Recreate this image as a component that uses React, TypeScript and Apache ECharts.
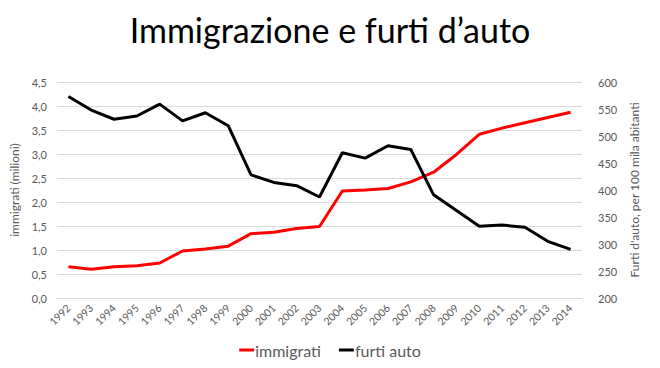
import React, { useEffect, useRef } from "react";
import * as echarts from "echarts";

const years = ["1992","1993","1994","1995","1996","1997","1998","1999","2000","2001","2002","2003","2004","2005","2006","2007","2008","2009","2010","2011","2012","2013","2014"];
const immigrati = [0.65,0.60,0.65,0.67,0.73,0.98,1.02,1.08,1.34,1.37,1.45,1.49,2.23,2.25,2.28,2.42,2.62,2.99,3.41,3.54,3.65,3.76,3.87];
const furtiAuto = [573,548,531,537,559,528,543,519,428,414,408,387,469,459,482,475,391,362,333,335,331,305,290];

const FONT = "Lato, 'Open Sans', sans-serif";
const GRAY = "#595959";

export default function App() {
  const ref = useRef<HTMLDivElement>(null);
  useEffect(() => {
    document.body.style.margin = "0";
    const chart = echarts.init(ref.current!, null, { renderer: "svg" });
    chart.setOption({
      animation: false,
      backgroundColor: "#ffffff",
      textStyle: { fontFamily: FONT },
      title: {
        text: "Immigrazione e furti d\u2019auto",
        left: "center",
        top: 7,
        textStyle: { fontFamily: FONT, fontSize: 34, fontWeight: "normal", color: "#000000" },
      },
      legend: {
        bottom: 5,
        left: "center",
        icon: "rect",
        itemWidth: 15,
        itemHeight: 3,
        itemGap: 18,
        textStyle: { fontFamily: FONT, fontSize: 16, color: GRAY, padding: [0, 0, 0, -4] },
        data: ["immigrati", "furti auto"],
      },
      grid: { left: 57, right: 78, top: 82, bottom: 70, containLabel: false },
      xAxis: {
        type: "category",
        data: years,
        boundaryGap: true,
        axisLine: { show: true, lineStyle: { color: "#d9d9d9" } },
        axisTick: { show: false },
        axisLabel: { rotate: 45, fontSize: 10.5, color: GRAY, fontFamily: FONT, margin: 8, interval: 0 },
      },
      yAxis: [
        {
          type: "value",
          min: 0,
          max: 4.5,
          interval: 0.5,
          name: "immigrati (milioni)",
          nameLocation: "middle",
          nameGap: 33,
          nameTextStyle: { fontSize: 12, color: GRAY, fontFamily: FONT },
          axisLine: { show: false },
          axisTick: { show: false },
          axisLabel: {
            fontSize: 11,
            color: GRAY,
            fontFamily: FONT,
            margin: 10,
            formatter: (v: number) => v.toFixed(1).replace(".", ","),
          },
          splitLine: { lineStyle: { color: "#d9d9d9" } },
        },
        {
          type: "value",
          min: 200,
          max: 600,
          interval: 50,
          name: "Furti d'auto, per 100 mila abitanti",
          nameLocation: "middle",
          nameGap: 40,
          nameRotate: 90,
          nameTextStyle: { fontSize: 12, color: GRAY, fontFamily: FONT },
          axisLine: { show: false },
          axisTick: { show: false },
          axisLabel: { fontSize: 11, color: GRAY, fontFamily: FONT, margin: 16 },
          splitLine: { show: false },
        },
      ],
      series: [
        {
          name: "immigrati",
          type: "line",
          yAxisIndex: 0,
          data: immigrati,
          symbol: "none",
          lineStyle: { color: "#ff0000", width: 3 },
          itemStyle: { color: "#ff0000" },
        },
        {
          name: "furti auto",
          type: "line",
          yAxisIndex: 1,
          data: furtiAuto,
          symbol: "none",
          lineStyle: { color: "#000000", width: 3 },
          itemStyle: { color: "#000000" },
        },
      ],
    });
    return () => chart.dispose();
  }, []);
  return <div ref={ref} style={{ width: 660, height: 368 }} />;
}
